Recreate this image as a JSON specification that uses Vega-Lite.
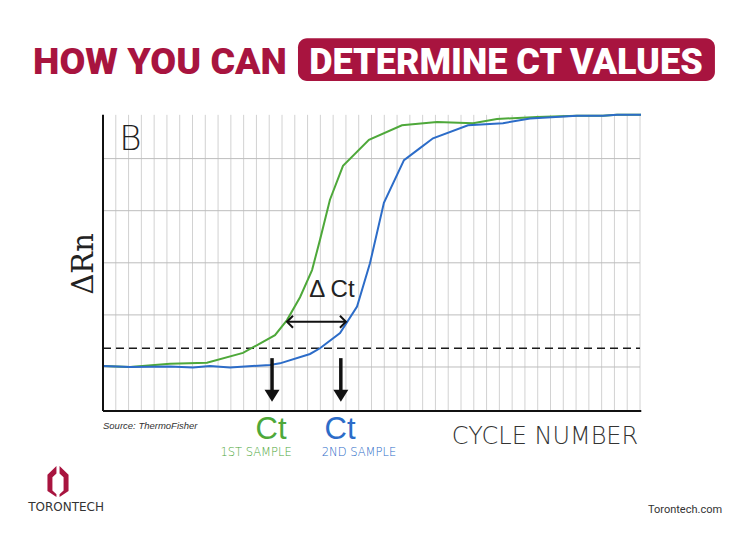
{
  "$schema": "https://vega.github.io/schema/vega-lite/v6.json",
  "autosize": {"type": "fit", "contains": "padding"},
  "width": 750,
  "height": 540,
  "padding": 0,
  "background": "white",
  "config": {"view": {"stroke": null}},
  "datasets": {
    "curves": [
      {"cycle": 0, "rn": 0.02, "sample": "1st sample"},
      {"cycle": 2.11, "rn": 0.0, "sample": "1st sample"},
      {"cycle": 5.24, "rn": 0.06, "sample": "1st sample"},
      {"cycle": 8.13, "rn": 0.08, "sample": "1st sample"},
      {"cycle": 10.95, "rn": 0.27, "sample": "1st sample"},
      {"cycle": 13.45, "rn": 0.61, "sample": "1st sample"},
      {"cycle": 14.39, "rn": 0.9, "sample": "1st sample"},
      {"cycle": 15.41, "rn": 1.34, "sample": "1st sample"},
      {"cycle": 16.35, "rn": 1.86, "sample": "1st sample"},
      {"cycle": 16.97, "rn": 2.44, "sample": "1st sample"},
      {"cycle": 17.75, "rn": 3.21, "sample": "1st sample"},
      {"cycle": 18.77, "rn": 3.86, "sample": "1st sample"},
      {"cycle": 20.8, "rn": 4.36, "sample": "1st sample"},
      {"cycle": 23.38, "rn": 4.64, "sample": "1st sample"},
      {"cycle": 26.12, "rn": 4.7, "sample": "1st sample"},
      {"cycle": 28.94, "rn": 4.68, "sample": "1st sample"},
      {"cycle": 30.81, "rn": 4.76, "sample": "1st sample"},
      {"cycle": 33.94, "rn": 4.8, "sample": "1st sample"},
      {"cycle": 37.07, "rn": 4.82, "sample": "1st sample"},
      {"cycle": 39.1, "rn": 4.82, "sample": "1st sample"},
      {"cycle": 40.2, "rn": 4.84, "sample": "1st sample"},
      {"cycle": 42.08, "rn": 4.84, "sample": "1st sample"},
      {"cycle": 0, "rn": 0.02, "sample": "2nd sample"},
      {"cycle": 2.11, "rn": 0.0, "sample": "2nd sample"},
      {"cycle": 5.24, "rn": 0.01, "sample": "2nd sample"},
      {"cycle": 7.04, "rn": -0.01, "sample": "2nd sample"},
      {"cycle": 8.37, "rn": 0.02, "sample": "2nd sample"},
      {"cycle": 9.93, "rn": -0.01, "sample": "2nd sample"},
      {"cycle": 13.06, "rn": 0.04, "sample": "2nd sample"},
      {"cycle": 13.84, "rn": 0.07, "sample": "2nd sample"},
      {"cycle": 16.19, "rn": 0.25, "sample": "2nd sample"},
      {"cycle": 16.97, "rn": 0.36, "sample": "2nd sample"},
      {"cycle": 18.54, "rn": 0.65, "sample": "2nd sample"},
      {"cycle": 19.87, "rn": 1.16, "sample": "2nd sample"},
      {"cycle": 20.88, "rn": 1.99, "sample": "2nd sample"},
      {"cycle": 21.97, "rn": 3.15, "sample": "2nd sample"},
      {"cycle": 23.54, "rn": 3.97, "sample": "2nd sample"},
      {"cycle": 24.79, "rn": 4.2, "sample": "2nd sample"},
      {"cycle": 25.81, "rn": 4.39, "sample": "2nd sample"},
      {"cycle": 28.55, "rn": 4.64, "sample": "2nd sample"},
      {"cycle": 31.28, "rn": 4.68, "sample": "2nd sample"},
      {"cycle": 33.4, "rn": 4.77, "sample": "2nd sample"},
      {"cycle": 37.07, "rn": 4.82, "sample": "2nd sample"},
      {"cycle": 39.1, "rn": 4.82, "sample": "2nd sample"},
      {"cycle": 40.2, "rn": 4.84, "sample": "2nd sample"},
      {"cycle": 42.08, "rn": 4.84, "sample": "2nd sample"}
    ],
    "gridX": [
      {"cycle": 1}, {"cycle": 2}, {"cycle": 3}, {"cycle": 4}, {"cycle": 5}, {"cycle": 6}, {"cycle": 7},
      {"cycle": 8}, {"cycle": 9}, {"cycle": 10}, {"cycle": 11}, {"cycle": 12}, {"cycle": 13}, {"cycle": 14},
      {"cycle": 15}, {"cycle": 16}, {"cycle": 17}, {"cycle": 18}, {"cycle": 19}, {"cycle": 20}, {"cycle": 21},
      {"cycle": 22}, {"cycle": 23}, {"cycle": 24}, {"cycle": 25}, {"cycle": 26}, {"cycle": 27}, {"cycle": 28},
      {"cycle": 29}, {"cycle": 30}, {"cycle": 31}, {"cycle": 32}, {"cycle": 33}, {"cycle": 34}, {"cycle": 35},
      {"cycle": 36}, {"cycle": 37}, {"cycle": 38}, {"cycle": 39}, {"cycle": 40}, {"cycle": 41}, {"cycle": 42}
    ],
    "gridY": [{"rn": 0}, {"rn": 1}, {"rn": 2}, {"rn": 3}, {"rn": 4}],
    "threshold": [{"rn": 0.36}],
    "ct": [
      {"cycle": 13.22, "sample": "1st sample"},
      {"cycle": 18.6, "sample": "2nd sample"}
    ],
    "delta": [{"from": 14.39, "to": 19.0, "rn": 0.87}]
  },
  "encoding": {
    "x": {"type": "quantitative", "scale": {"domain": [-8.056, 50.603], "nice": false, "zero": false}, "axis": null},
    "y": {"type": "quantitative", "scale": {"domain": [-3.3205, 7.044], "nice": false, "zero": false}, "axis": null}
  },
  "layer": [
    {
      "data": {"name": "gridX"},
      "mark": {"type": "rule", "color": "#d2d2d2", "strokeWidth": 1},
      "encoding": {"x": {"field": "cycle", "type": "quantitative"}, "y": {"datum": -0.845}, "y2": {"datum": 4.84}}
    },
    {
      "data": {"name": "gridY"},
      "mark": {"type": "rule", "color": "#bdbdbd", "strokeWidth": 1},
      "encoding": {"y": {"field": "rn", "type": "quantitative"}, "x": {"datum": 0}, "x2": {"datum": 42}}
    },
    {
      "data": {"name": "threshold"},
      "mark": {"type": "rule", "color": "#1a1a1a", "strokeWidth": 1.6, "strokeDash": [8, 5]},
      "encoding": {"y": {"field": "rn", "type": "quantitative"}, "x": {"datum": 0}, "x2": {"datum": 42}}
    },
    {
      "data": {"name": "curves"},
      "mark": {"type": "line", "strokeWidth": 2, "interpolate": "linear"},
      "encoding": {
        "x": {"field": "cycle", "type": "quantitative"},
        "y": {"field": "rn", "type": "quantitative"},
        "color": {"field": "sample", "type": "nominal", "scale": {"domain": ["1st sample", "2nd sample"], "range": ["#4ea83a", "#2c6cc8"]}, "legend": null},
        "order": {"field": "cycle", "type": "quantitative"}
      }
    },
    {
      "data": {"values": [{"axis": "y"}]},
      "mark": {"type": "rule", "color": "#111", "strokeWidth": 2},
      "encoding": {"x": {"datum": 0}, "y": {"datum": -0.845}, "y2": {"datum": 4.84}}
    },
    {
      "data": {"values": [{"axis": "x"}]},
      "mark": {"type": "rule", "color": "#111", "strokeWidth": 2},
      "encoding": {"y": {"datum": -0.845}, "x": {"datum": 0}, "x2": {"datum": 42.1}}
    },
    {
      "data": {"name": "ct"},
      "mark": {"type": "rule", "color": "#111", "strokeWidth": 3.5},
      "encoding": {"x": {"field": "cycle", "type": "quantitative"}, "y": {"datum": 0.17}, "y2": {"datum": -0.47}}
    },
    {
      "data": {"name": "ct"},
      "mark": {"type": "point", "shape": "M -1 -1.6 L 1 -1.6 L 0 0 Z", "filled": true, "color": "#111", "opacity": 1, "size": 225},
      "encoding": {"x": {"field": "cycle", "type": "quantitative"}, "y": {"datum": -0.665}}
    },
    {
      "data": {"name": "delta"},
      "mark": {"type": "rule", "color": "#111", "strokeWidth": 2},
      "encoding": {"x": {"field": "from", "type": "quantitative"}, "x2": {"field": "to"}, "y": {"field": "rn", "type": "quantitative"}}
    },
    {
      "data": {"name": "delta"},
      "mark": {"type": "point", "shape": "M 1 -1 L 0 0 L 1 1", "filled": false, "color": "#111", "strokeWidth": 2, "opacity": 1, "size": 144},
      "encoding": {"x": {"field": "from", "type": "quantitative"}, "y": {"field": "rn", "type": "quantitative"}}
    },
    {
      "data": {"name": "delta"},
      "mark": {"type": "point", "shape": "M -1 -1 L 0 0 L -1 1", "filled": false, "color": "#111", "strokeWidth": 2, "opacity": 1, "size": 144},
      "encoding": {"x": {"field": "to", "type": "quantitative"}, "y": {"field": "rn", "type": "quantitative"}}
    },
    {
      "data": {"values": [{"label": "Δ Ct", "cycle": 17.9, "rn": 1.48}]},
      "mark": {"type": "text", "font": "Liberation Sans", "fontSize": 24, "color": "#222", "align": "center", "baseline": "middle"},
      "encoding": {"x": {"field": "cycle", "type": "quantitative"}, "y": {"field": "rn", "type": "quantitative"}, "text": {"field": "label"}}
    },
    {
      "data": {"values": [{"label": "B", "cycle": 2.15, "rn": 4.36}]},
      "mark": {"type": "text", "font": "DejaVu Sans", "fontWeight": 200, "fontSize": 34, "color": "#222", "align": "center", "baseline": "middle"},
      "encoding": {"x": {"field": "cycle", "type": "quantitative"}, "y": {"field": "rn", "type": "quantitative"}, "text": {"field": "label"}}
    },
    {
      "data": {"values": [{"label": "ΔRn", "cycle": -1.45, "rn": 1.98}]},
      "mark": {"type": "text", "font": "DejaVu Serif", "fontSize": 29, "color": "#222", "align": "center", "baseline": "middle", "angle": 270},
      "encoding": {"x": {"field": "cycle", "type": "quantitative"}, "y": {"field": "rn", "type": "quantitative"}, "text": {"field": "label"}}
    },
    {
      "data": {"values": [
        {"label": "Ct", "cycle": 13.14, "rn": -1.21, "sample": "1st sample"},
        {"label": "Ct", "cycle": 18.54, "rn": -1.21, "sample": "2nd sample"}
      ]},
      "mark": {"type": "text", "font": "Liberation Sans", "fontSize": 31, "align": "center", "baseline": "middle"},
      "encoding": {
        "x": {"field": "cycle", "type": "quantitative"}, "y": {"field": "rn", "type": "quantitative"}, "text": {"field": "label"},
        "color": {"field": "sample", "type": "nominal", "scale": {"domain": ["1st sample", "2nd sample"], "range": ["#4ea83a", "#2c6cc8"]}, "legend": null}
      }
    },
    {
      "data": {"values": [
        {"label": "1ST SAMPLE", "cycle": 11.97, "rn": -1.65, "tone": "a"},
        {"label": "2ND SAMPLE", "cycle": 20.02, "rn": -1.65, "tone": "b"}
      ]},
      "mark": {"type": "text", "font": "DejaVu Sans", "fontWeight": 200, "fontSize": 11.5, "align": "center", "baseline": "middle"},
      "encoding": {
        "x": {"field": "cycle", "type": "quantitative"}, "y": {"field": "rn", "type": "quantitative"}, "text": {"field": "label"},
        "color": {"field": "tone", "type": "nominal", "scale": {"domain": ["a", "b"], "range": ["#76bb62", "#6a90d0"]}, "legend": null}
      }
    },
    {
      "data": {"values": [{"label": "CYCLE NUMBER", "cycle": 34.57, "rn": -1.34}]},
      "mark": {"type": "text", "font": "DejaVu Sans", "fontWeight": 200, "fontSize": 24, "color": "#333", "align": "center", "baseline": "middle"},
      "encoding": {"x": {"field": "cycle", "type": "quantitative"}, "y": {"field": "rn", "type": "quantitative"}, "text": {"field": "label"}}
    },
    {
      "data": {"values": [{"label": "Source: ThermoFisher", "cycle": 0, "rn": -1.13}]},
      "mark": {"type": "text", "font": "Liberation Sans", "fontStyle": "italic", "fontSize": 9.5, "color": "#333", "align": "left", "baseline": "middle"},
      "encoding": {"x": {"field": "cycle", "type": "quantitative"}, "y": {"field": "rn", "type": "quantitative"}, "text": {"field": "label"}}
    },
    {
      "data": {"values": [{"box": "title"}]},
      "mark": {"type": "rect", "color": "#a8143f", "cornerRadius": 9},
      "encoding": {"x": {"datum": 15.25}, "x2": {"datum": 47.86}, "y": {"datum": 6.31}, "y2": {"datum": 5.49}}
    },
    {
      "data": {"values": [{"label": "HOW YOU CAN", "cycle": 4.46, "rn": 5.84}]},
      "mark": {"type": "text", "font": "Roboto", "fontWeight": 900, "fontSize": 37.5, "color": "#a8143f", "align": "center", "baseline": "middle"},
      "encoding": {"x": {"field": "cycle", "type": "quantitative"}, "y": {"field": "rn", "type": "quantitative"}, "text": {"field": "label"}}
    },
    {
      "data": {"values": [{"label": "DETERMINE CT VALUES", "cycle": 31.52, "rn": 5.84}]},
      "mark": {"type": "text", "font": "Roboto", "fontWeight": 900, "fontSize": 36, "color": "#ffffff", "align": "center", "baseline": "middle"},
      "encoding": {"x": {"field": "cycle", "type": "quantitative"}, "y": {"field": "rn", "type": "quantitative"}, "text": {"field": "label"}}
    },
    {
      "data": {"values": [{"logo": "Torontech", "cycle": -3.52, "rn": -2.2}]},
      "mark": {"type": "point", "shape": "M -0.68 -0.45 L -0.1 -1 L -0.1 -0.52 L -0.36 -0.28 L -0.36 0.58 L -0.1 0.82 L -0.1 1 L -0.68 0.6 Z M 0.1 -1 L 0.68 -0.45 L 0.68 0.6 L 0.1 1 L 0.1 0.82 L 0.36 0.58 L 0.36 -0.28 L 0.1 -0.52 Z", "filled": true, "color": "#a8143f", "opacity": 1, "size": 961},
      "encoding": {"x": {"field": "cycle", "type": "quantitative"}, "y": {"field": "rn", "type": "quantitative"}}
    },
    {
      "data": {"values": [{"label": "TORONTECH", "cycle": -2.89, "rn": -2.687}]},
      "mark": {"type": "text", "font": "DejaVu Sans", "fontSize": 12, "color": "#333", "align": "center", "baseline": "middle"},
      "encoding": {"x": {"field": "cycle", "type": "quantitative"}, "y": {"field": "rn", "type": "quantitative"}, "text": {"field": "label"}}
    },
    {
      "data": {"values": [{"label": "Torontech.com", "cycle": 45.52, "rn": -2.745}]},
      "mark": {"type": "text", "font": "Roboto", "fontSize": 11, "color": "#333", "align": "center", "baseline": "middle"},
      "encoding": {"x": {"field": "cycle", "type": "quantitative"}, "y": {"field": "rn", "type": "quantitative"}, "text": {"field": "label"}}
    }
  ]
}
